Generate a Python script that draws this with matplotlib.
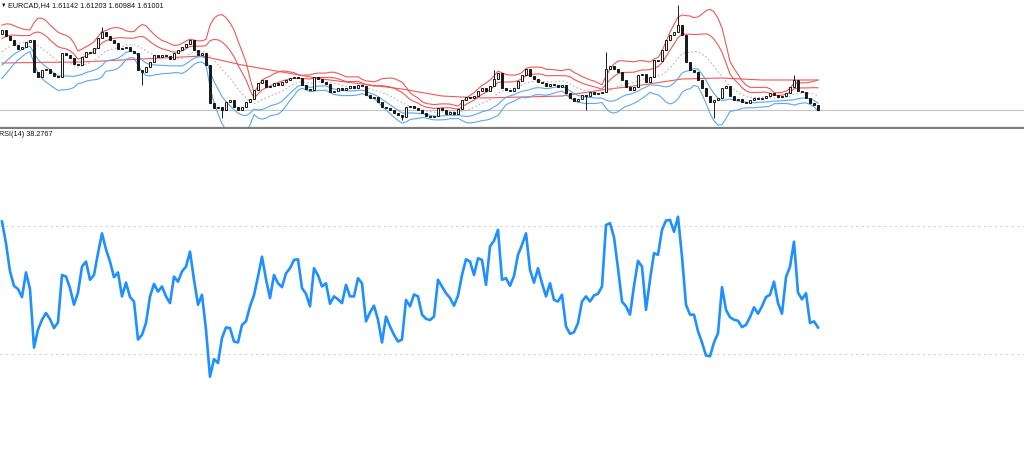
import numpy as np
import pandas as pd
import matplotlib
matplotlib.use('Agg')
import matplotlib.pyplot as plt

symbol_text = "EURCAD,H4 1.61142 1.61203 1.60984 1.61001"
rsi_label = "RSI(14) 38.2767"

# bars before the visible window (only needed so the bands have a history)
prev_closes = [1.6195, 1.6205, 1.6210, 1.6220, 1.6230, 1.6238, 1.6250, 1.6258, 1.6270, 1.6280, 1.6290]

closes = [
    1.6300, 1.6285, 1.6275, 1.6263, 1.6253, 1.6258, 1.6270, 1.6275, 1.6195, 1.6183,
    1.6200, 1.6203, 1.6193, 1.6185, 1.6183, 1.6243, 1.6238, 1.6230, 1.6215, 1.6213,
    1.6233, 1.6245, 1.6243, 1.6255, 1.6280, 1.6295, 1.6285, 1.6275, 1.6268, 1.6253,
    1.6255, 1.6257, 1.6248, 1.6243, 1.6200, 1.6195, 1.6208, 1.6220, 1.6238, 1.6233,
    1.6238, 1.6236, 1.6228, 1.6243, 1.6250, 1.6258, 1.6265, 1.6275, 1.6250, 1.6238,
    1.6243, 1.6213, 1.6118, 1.6105, 1.6108, 1.6100, 1.6120, 1.6125, 1.6108, 1.6100,
    1.6108, 1.6120, 1.6128, 1.6150, 1.6168, 1.6175, 1.6158, 1.6160, 1.6168, 1.6163,
    1.6170, 1.6175, 1.6180, 1.6183, 1.6180, 1.6163, 1.6153, 1.6150, 1.6183, 1.6178,
    1.6170, 1.6165, 1.6145, 1.6148, 1.6155, 1.6150, 1.6155, 1.6160, 1.6155, 1.6163,
    1.6160, 1.6138, 1.6130, 1.6132, 1.6120, 1.6108, 1.6105, 1.6100, 1.6093, 1.6088,
    1.6083, 1.6108, 1.6110, 1.6105, 1.6100, 1.6093, 1.6085, 1.6083, 1.6085, 1.6105,
    1.6100, 1.6090, 1.6095, 1.6090, 1.6103, 1.6125, 1.6133, 1.6130, 1.6135, 1.6148,
    1.6155, 1.6148, 1.6160, 1.6178, 1.6193, 1.6155, 1.6150, 1.6148, 1.6155, 1.6173,
    1.6188, 1.6203, 1.6185, 1.6178, 1.6170, 1.6168, 1.6160, 1.6165, 1.6163, 1.6158,
    1.6163, 1.6143, 1.6130, 1.6123, 1.6128, 1.6138, 1.6135, 1.6145, 1.6140, 1.6143,
    1.6145, 1.6203, 1.6210, 1.6203, 1.6195, 1.6175, 1.6158, 1.6150, 1.6158, 1.6188,
    1.6190, 1.6170, 1.6183, 1.6225, 1.6223, 1.6250, 1.6275, 1.6288, 1.6295, 1.6313,
    1.6288, 1.6220, 1.6200, 1.6195, 1.6175, 1.6155, 1.6135, 1.6120, 1.6125, 1.6130,
    1.6155, 1.6160, 1.6135, 1.6125, 1.6128, 1.6120, 1.6118, 1.6125, 1.6130, 1.6128,
    1.6130, 1.6135, 1.6143, 1.6138, 1.6133, 1.6135, 1.6143, 1.6158, 1.6175, 1.6148,
    1.6145, 1.6130, 1.6118, 1.6113, 1.61001,
]

# long wicks that stick out
spike_bars = [25, 35, 55, 100, 123, 146, 151, 169, 178, 198]
spike_prices = [1.63075, 1.61625, 1.6080, 1.6075, 1.6200, 1.6100, 1.6245, 1.63625, 1.6080, 1.61875]

# slow moving average (red, flat one)
slow_ma_bars = [0, 10, 20, 30, 40, 50, 60, 70, 80, 90, 100, 110, 120, 130, 140, 150, 160, 170, 180, 190, 200, 204]
slow_ma = [1.62175, 1.62190, 1.6220, 1.6225, 1.6230, 1.6235, 1.62125, 1.6195, 1.61775, 1.6165, 1.61525,
           1.6135, 1.6130, 1.61325, 1.6135, 1.6150, 1.61625, 1.61775, 1.6180, 1.6175, 1.6175, 1.6175]

rsi = [
    71.4, 64.6, 55.8, 51.3, 50.3, 47.8, 55.5, 50.3, 32.0, 37.6,
    40.7, 42.8, 40.9, 38.1, 39.9, 54.7, 54.2, 50.6, 45.4, 49.2,
    57.3, 58.9, 53.2, 54.7, 61.5, 67.7, 62.7, 58.9, 54.0, 55.5,
    48.0, 52.3, 47.8, 46.4, 34.5, 36.0, 39.7, 48.0, 51.9, 49.5,
    51.1, 48.0, 45.9, 54.2, 52.6, 55.8, 57.3, 62.0, 53.2, 45.4,
    48.5, 37.6, 22.9, 28.4, 27.2, 35.0, 38.3, 38.1, 33.9, 33.6,
    39.1, 40.2, 44.9, 48.4, 54.2, 60.4, 53.4, 47.5, 54.7, 52.1,
    50.9, 55.2, 56.8, 59.4, 59.6, 50.6, 48.8, 44.9, 56.8, 54.6,
    51.1, 52.1, 45.7, 48.0, 47.1, 45.9, 51.6, 48.0, 48.0, 53.7,
    52.1, 40.2, 43.0, 45.1, 40.7, 33.6, 41.7, 38.6, 36.0, 33.9,
    34.5, 46.9, 44.9, 48.6, 48.0, 42.3, 41.0, 40.6, 41.7, 53.2,
    51.1, 49.0, 47.5, 45.1, 48.2, 54.7, 59.6, 58.9, 54.7, 59.9,
    59.4, 51.6, 63.6, 65.4, 68.8, 53.2, 53.7, 51.3, 54.4, 61.0,
    64.1, 67.7, 56.3, 52.3, 56.8, 52.1, 48.0, 52.1, 46.9, 46.4,
    48.5, 38.6, 36.3, 36.8, 39.7, 46.4, 48.0, 46.4, 48.3, 48.8,
    51.1, 70.3, 70.9, 66.5, 56.8, 46.4, 44.9, 42.3, 51.3, 59.1,
    57.3, 43.8, 53.2, 61.5, 61.0, 68.8, 71.7, 71.9, 68.2, 72.9,
    60.4, 45.4, 42.3, 42.3, 37.1, 33.6, 29.5, 29.3, 33.6, 36.5,
    50.9, 43.8, 41.5, 40.7, 40.4, 38.4, 39.1, 41.5, 44.6, 42.6,
    44.9, 47.8, 48.5, 52.6, 45.9, 42.6, 54.0, 57.3, 65.1, 49.2,
    47.1, 49.0, 39.7, 40.2, 38.2767,
]

# bollinger style bands from the closes
all_c = pd.Series(prev_closes + closes)
n_prev = len(prev_closes)
mid = all_c.rolling(12).mean().values[n_prev:]
sd = all_c.rolling(12).std(ddof=0).values[n_prev:]

closes = np.array(closes)
opens = np.r_[prev_closes[-1], closes[:-1]]
highs = np.maximum(opens, closes)
lows = np.minimum(opens, closes)
for b, p in zip(spike_bars, spike_prices):
    highs[b] = max(highs[b], p)
    lows[b] = min(lows[b], p)

x = np.arange(len(closes))
W, H = 1024, 451

fig = plt.figure(figsize=(W / 100, H / 100), dpi=100)
fig.patch.set_facecolor('white')

# ---- price window
ax1 = fig.add_axes([0, 1 - 128 / H, 1, 128 / H])
ax1.axhline(closes[-1], color='#c4c4c4', lw=0.8, zorder=0)
ax1.plot(x, mid + 2 * sd, color='#f25757', lw=0.8)
ax1.plot(x, mid + sd, color='#f25757', lw=0.8)
ax1.plot(slow_ma_bars, slow_ma, color='#f25757', lw=0.8)
ax1.plot(x, mid, color='#b5b5b5', lw=0.8, ls=(0, (1.5, 2)))
ax1.plot(x, mid - sd, color='#5aa9f0', lw=0.8)
ax1.plot(x, mid - 2 * sd, color='#5aa9f0', lw=0.8)

ax1.vlines(x, lows, highs, color='#1a1a1a', lw=0.7, zorder=3)
body_h = np.maximum(np.abs(closes - opens), 0.00012)
body_c = ['#f4f4f4' if c > o else '#1a1a1a' for o, c in zip(opens, closes)]
ax1.bar(x, body_h, bottom=np.minimum(opens, closes), width=0.72,
        color=body_c, edgecolor='#1a1a1a', linewidth=0.7, zorder=4)

ax1.set_xlim(-0.5, 255.5)
ax1.set_ylim(1.6055, 1.6375)
ax1.set_xticks([])
ax1.set_yticks([])
for s in ['top', 'left', 'right']:
    ax1.spines[s].set_visible(False)
ax1.spines['bottom'].set_color('#7d7d7d')
ax1.spines['bottom'].set_linewidth(1.6)

# ---- rsi window
ax2 = fig.add_axes([0, 0, 1, 322 / H])
ax2.axhline(70, color='#d2d2d2', lw=0.8, ls=(0, (2, 3)))
ax2.axhline(30, color='#d2d2d2', lw=0.8, ls=(0, (2, 3)))
ax2.plot(x, rsi, color='#1e90ff', lw=1.9, solid_joinstyle='round')
ax2.set_xlim(-0.5, 255.5)
ax2.set_ylim(-0.3125, 100.3125)
ax2.set_xticks([])
ax2.set_yticks([])
for s in ax2.spines.values():
    s.set_visible(False)

fam = ['Liberation Sans', 'DejaVu Sans']
fig.text(0.5 / W, 1 - 5.5 / H, '\u25bc', fontsize=4, family=fam, va='center', ha='left', color='#111111')
fig.text(7.5 / W, 1 - 5.5 / H, symbol_text, fontsize=5.2, family=fam, va='center', ha='left', color='#111111')
fig.text(-1 / W, 1 - 134.5 / H, rsi_label, fontsize=5.2, family=fam, va='center', ha='left', color='#111111')

fig.savefig('out.png', dpi=100)
